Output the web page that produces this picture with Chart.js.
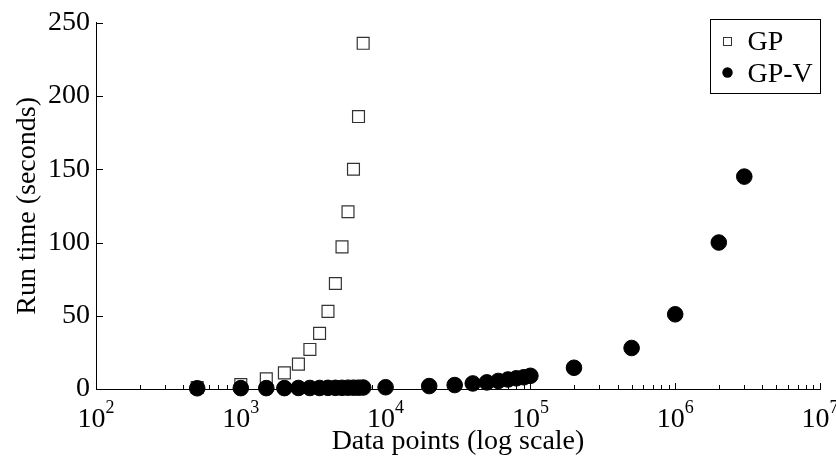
<!DOCTYPE html>
<html>
<head>
<meta charset="utf-8">
<script src="https://cdn.jsdelivr.net/npm/chart.js@4.4.0/dist/chart.umd.min.js"></script>
<style>
  html, body { margin: 0; padding: 0; background: #fff; }
  #wrap { width: 836px; height: 459px; }
</style>
</head>
<body>
<div id="wrap"><canvas id="runtime" width="836" height="459"></canvas></div>
<script>
// run time of the plain GP vs the GP-V variant
const gpSizes = [500, 1000, 1500, 2000, 2500, 3000, 3500, 4000, 4500, 5000, 5500, 6000, 6500, 7000];
const gpTimes = [1, 3, 7, 11, 17, 27, 38, 53, 72, 97, 121, 150, 186, 236];

const gpvSizes = [500, 1000, 1500, 2000, 2500, 3000, 3500, 4000, 4500, 5000, 5500, 6000, 6500, 7000,
  10000, 20000, 30000, 40000, 50000, 60000, 70000, 80000, 90000, 100000,
  200000, 500000, 1000000, 2000000, 3000000];
const gpvTimes = [0.5, 0.6, 0.6, 0.6, 0.7, 0.7, 0.7, 0.8, 0.8, 0.8, 0.9, 0.9, 0.9, 1,
  1.2, 2, 2.7, 3.8, 4.5, 5.5, 6.5, 7.3, 8, 9,
  14.5, 28, 51, 100, 145];

const yTicks = [0, 50, 100, 150, 200, 250];
const xDecades = [2, 3, 4, 5, 6, 7];
const seriesLabels = ['GP', 'GP-V'];

const serif = "'Liberation Serif', 'Times New Roman', serif";

const toPoints = (xs, ys) => xs.map((v, i) => ({x: v, y: ys[i]}));

// inward tick marks + 10^n labels, drawn under the points
const axisDecor = {
  id: 'axisDecor',
  beforeDatasetsDraw(chart) {
    const {ctx, chartArea: a, scales: {x, y}} = chart;
    ctx.save();
    ctx.strokeStyle = '#000';
    ctx.lineWidth = 1;
    ctx.beginPath();
    yTicks.forEach(v => {
      const py = Math.round(y.getPixelForValue(v)) + 0.5;
      ctx.moveTo(a.left, py);
      ctx.lineTo(a.left + 7, py);
    });
    xDecades.forEach(e => {
      for (let m = 1; m < 10; m++) {
        if (e === 7 && m > 1) break;
        const px = Math.round(x.getPixelForValue(m * Math.pow(10, e))) + 0.5;
        const len = m === 1 ? 6 : 4;
        ctx.moveTo(px, a.bottom);
        ctx.lineTo(px, a.bottom - len);
      }
    });
    ctx.stroke();

    ctx.fillStyle = '#000';
    ctx.textAlign = 'left';
    ctx.textBaseline = 'alphabetic';
    xDecades.forEach(e => {
      const px = x.getPixelForValue(Math.pow(10, e));
      ctx.font = '28px ' + serif;
      const w1 = ctx.measureText('10').width;
      ctx.font = '18px ' + serif;
      const w2 = ctx.measureText(String(e)).width;
      const left = px - (w1 + w2) / 2;
      ctx.font = '28px ' + serif;
      ctx.fillText('10', left, a.bottom + 38);
      ctx.font = '18px ' + serif;
      ctx.fillText(String(e), left + w1, a.bottom + 24);
    });
    ctx.restore();
  }
};

// boxed legend in the top right corner
const legendBox = {
  id: 'legendBox',
  afterDraw(chart) {
    const {ctx, chartArea: a} = chart;
    const bx = Math.round(a.right) - 110 + 0.5;
    const by = Math.round(a.top) - 4 + 0.5;
    ctx.save();
    ctx.fillStyle = '#fff';
    ctx.strokeStyle = '#000';
    ctx.lineWidth = 1;
    ctx.fillRect(bx, by, 110, 74);
    ctx.strokeRect(bx, by, 110, 74);

    ctx.strokeStyle = '#333';
    ctx.strokeRect(bx + 13, by + 18, 8, 8);
    ctx.fillStyle = '#000';
    ctx.beginPath();
    ctx.arc(bx + 17, by + 53, 5.2, 0, Math.PI * 2);
    ctx.fill();

    ctx.font = '28px ' + serif;
    ctx.textBaseline = 'alphabetic';
    ctx.fillText(seriesLabels[0], bx + 37, by + 30.5);
    ctx.fillText(seriesLabels[1], bx + 37, by + 62);
    ctx.restore();
  }
};

new Chart(document.getElementById('runtime'), {
  type: 'scatter',
  data: {
    datasets: [
      {
        label: seriesLabels[0],
        data: toPoints(gpSizes, gpTimes),
        pointStyle: 'rect',
        pointRadius: 8.4,
        backgroundColor: '#fff',
        borderColor: '#333',
        borderWidth: 1.2,
        order: 2,
        clip: false
      },
      {
        label: seriesLabels[1],
        data: toPoints(gpvSizes, gpvTimes),
        pointStyle: 'circle',
        pointRadius: 7.8,
        backgroundColor: '#000',
        borderColor: '#000',
        borderWidth: 1,
        order: 1,
        clip: false
      }
    ]
  },
  options: {
    responsive: false,
    animation: false,
    layout: {padding: {left: 0, right: 16, top: 20, bottom: 0}},
    plugins: {
      legend: {display: false},
      tooltip: {enabled: false}
    },
    scales: {
      x: {
        type: 'logarithmic',
        min: 100,
        max: 10000000,
        grid: {display: true, drawOnChartArea: false, drawTicks: false},
        border: {display: true, color: '#000', width: 1},
        ticks: {callback: () => ''},
        title: {
          display: true,
          text: 'Data points (log scale)',
          color: '#000',
          font: {family: serif, size: 28},
          padding: {top: 0, bottom: 1}
        },
        afterFit(scale) { scale.height = 70; }
      },
      y: {
        min: 0,
        max: 250,
        grid: {display: true, drawOnChartArea: false, drawTicks: false},
        border: {display: true, color: '#000', width: 1},
        ticks: {stepSize: 50, color: '#000', font: {family: serif, size: 28}, padding: 6},
        title: {
          display: true,
          text: 'Run time (seconds)',
          color: '#000',
          font: {family: serif, size: 28},
          padding: {top: 11, bottom: 0}
        },
        afterFit(scale) { scale.width = 96; }
      }
    }
  },
  plugins: [axisDecor, legendBox]
});
</script>
</body>
</html>
